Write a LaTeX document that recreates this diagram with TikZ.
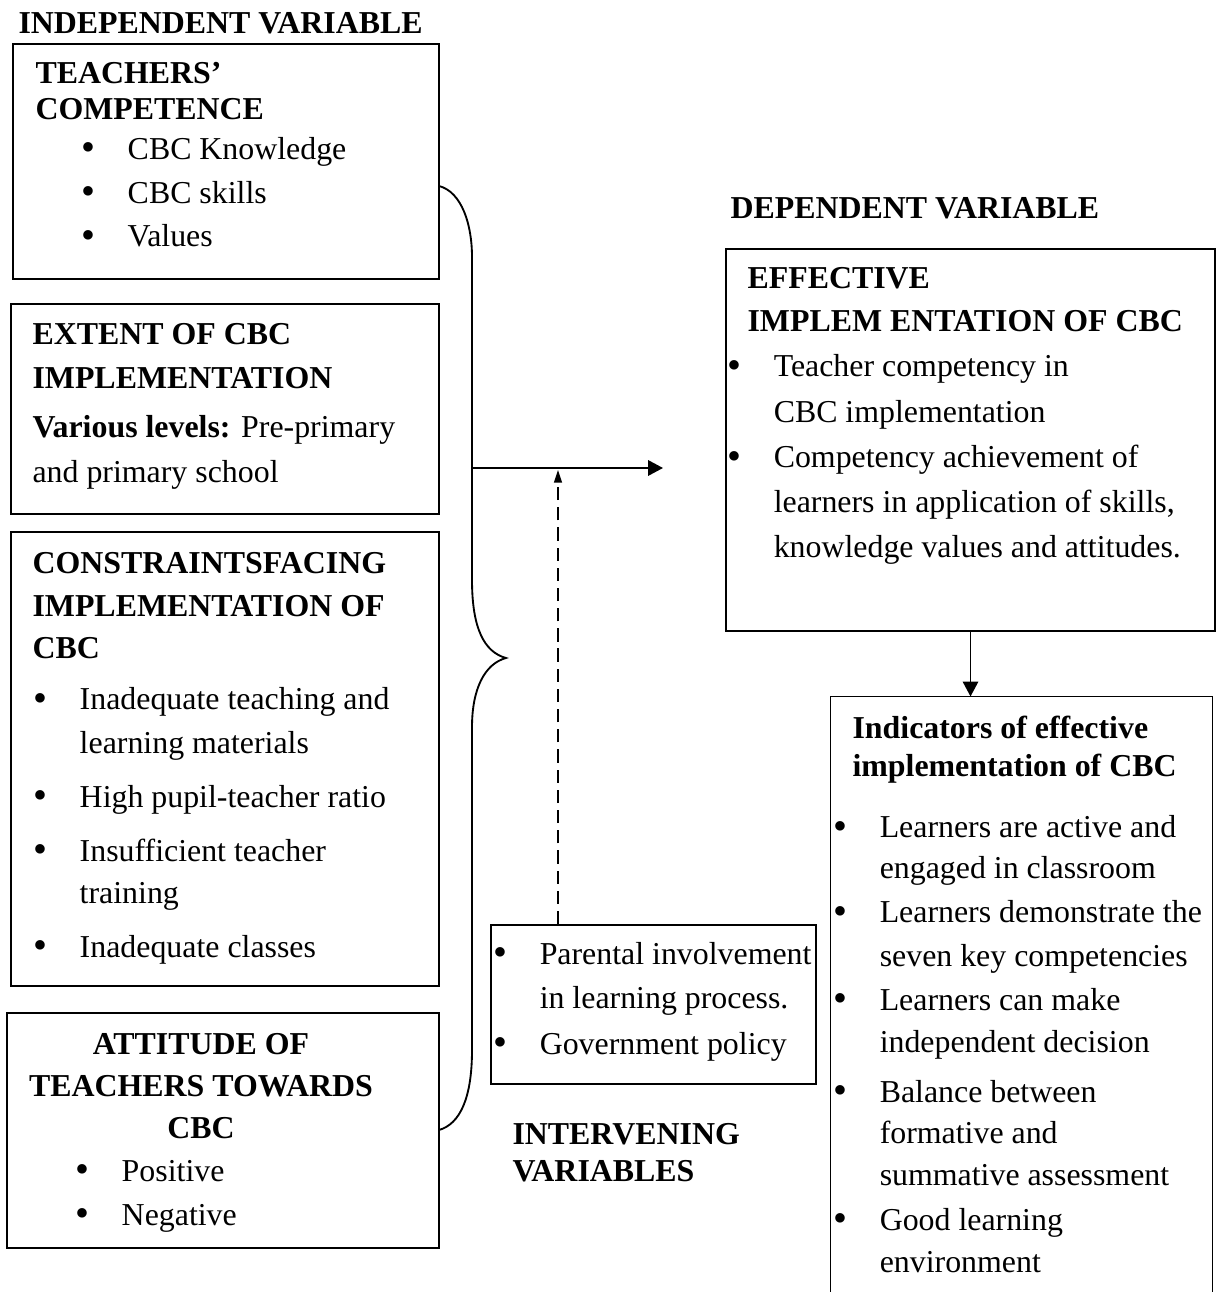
\documentclass[tikz,border=0pt]{standalone}
\usepackage{fontspec}
\setmainfont{Liberation Serif}
\usetikzlibrary{arrows.meta}

\newcommand{\bul}{\makebox[17.4pt][l]{\raisebox{-0.6pt}{\fontsize{15}{15}\selectfont\textbullet}}}
\newcommand{\bulgap}{\hspace*{17.4pt}}

\tikzset{
  box/.style={draw, rectangle, line width=0.6pt, inner sep=0pt},
  % multi-line texts are placed by the baseline of their last line
  txt/.style={anchor=base west, align=left, inner sep=0pt,
    font=\fontsize{12}{16.5}\selectfont},
  hd/.style={txt, font=\fontsize{12}{16.5}\selectfont\bfseries},
  arr/.style={line width=0.7pt, -{Triangle[length=5.6pt,width=5.8pt]}},
}

\begin{document}
\begin{tikzpicture}[x=0.3765pt, y=-0.3765pt]
\useasboundingbox (0,0) rectangle (1221,1292);

% variable headings
\node[hd] (indep) at (18,34) {INDEPENDENT VARIABLE};
\node[hd] (dep) at (730,219) {DEPENDENT VARIABLE};
\node[hd] (interlbl) at (512,1181) {INTERVENING\\[-2.6pt]VARIABLES};

% independent variables
\node[box, minimum width=160.4pt, minimum height=88.5pt] (comp) at (226,161.5) {};
\node[hd] (comphd) at (35,120) {TEACHERS'\\[-2.6pt]COMPETENCE};
\node[txt] (complist) at (81,247) {
  \bul CBC Knowledge\\
  \bul CBC skills\\
  \bul Values
};

\node[box, minimum width=161.1pt, minimum height=79.1pt] (extent) at (225,409) {};
\node[txt] (extenttxt) at (32,483) {
  \textbf{EXTENT OF CBC}\\
  \textbf{IMPLEMENTATION}\\[1.9pt]
  \textbf{Various levels:} Pre-primary\\[0.8pt]
  and primary school
};

\node[box, minimum width=161.1pt, minimum height=170.9pt] (constr) at (225,759) {};
\node[hd] (constrhd) at (32,658) {
  CONSTRAINTSFACING\\
  IMPLEMENTATION OF\\[-1pt]
  CBC
};
\node[txt] (constrlist) at (33,957) {
  \bul Inadequate teaching and\\
  \bulgap learning materials\\[3.8pt]
  \bul High pupil-teacher ratio\\[3.8pt]
  \bul Insufficient teacher\\[-0.7pt]
  \bulgap training\\[3.8pt]
  \bul Inadequate classes
};

\node[box, minimum width=162.6pt, minimum height=88.5pt] (attit) at (223,1130.5) {};
\node[hd, anchor=base, align=center] (attithd) at (201,1138) {
  ATTITUDE OF\\[-0.7pt]
  TEACHERS TOWARDS\\[-1pt]
  CBC
};
\node[txt] (attitlist) at (75,1225) {
  \bul Positive\\
  \bul Negative
};

% brace gathering the independent variables
\draw[line width=0.7pt] (439,186) .. controls (462,192) and (472,225) .. (472,257)
  -- (472,580) .. controls (472,628) and (484,652) .. (506,658)
  .. controls (484,664) and (472,690) .. (472,727)
  -- (472,1050) .. controls (472,1098) and (460,1124) .. (439,1130);

% intervening variables
\node[box, minimum width=122.4pt, minimum height=59.9pt] (interv) at (653.5,1004.5) {};
\node[txt] (intervlist) at (493,1054) {
  \bul Parental involvement\\
  \bulgap in learning process.\\[0.8pt]
  \bul Government policy
};

% dependent variable
\node[box, minimum width=184.1pt, minimum height=143.8pt] (eff) at (970.5,440) {};
\node[hd] (effhd) at (747,332) {
  EFFECTIVE\\
  IMPLEM ENTATION OF CBC
};
\node[txt] (efflist) at (727,558) {
  \bul Teacher competency in\\[0.8pt]
  \bulgap CBC implementation\\[0.5pt]
  \bul Competency achievement of\\[0.5pt]
  \bulgap learners in application of skills,\\[0.5pt]
  \bulgap knowledge values and attitudes.
};

\node[inner sep=0pt, minimum width=143.4pt, minimum height=224pt] (ind) at (1021.5,994.5) {};
\draw[line width=0.6pt] (ind.south west) |- (ind.north east) -- (ind.south east);
\node[hd] (indhd) at (852,776) {
  Indicators of effective\\[-2.2pt]
  implementation of CBC
};
\node[txt] (indlist) at (833,1272) {
  \bul Learners are active and\\[-1pt]
  \bulgap engaged in classroom\\
  \bul Learners demonstrate the\\
  \bulgap seven key competencies\\
  \bul Learners can make\\[-0.7pt]
  \bulgap independent decision\\[2.3pt]
  \bul Balance between\\[-1pt]
  \bulgap formative and\\[-0.7pt]
  \bulgap summative assessment\\[0.4pt]
  \bul Good learning\\[-0.7pt]
  \bulgap environment
};

% connectors
\coordinate (brmid) at (472,468);
\coordinate (arrend) at (663,468);
\draw[arr] (brmid) -- (arrend);
\coordinate (dashtip) at (558,470);
\draw[line width=0.6pt, dash pattern=on 5pt off 2.6pt,
  -{Triangle[length=4.8pt,width=3pt]}] (dashtip |- interv.north) -- (dashtip);
\draw[arr] (eff.south) -- (eff.south |- ind.north);
\end{tikzpicture}
\end{document}
